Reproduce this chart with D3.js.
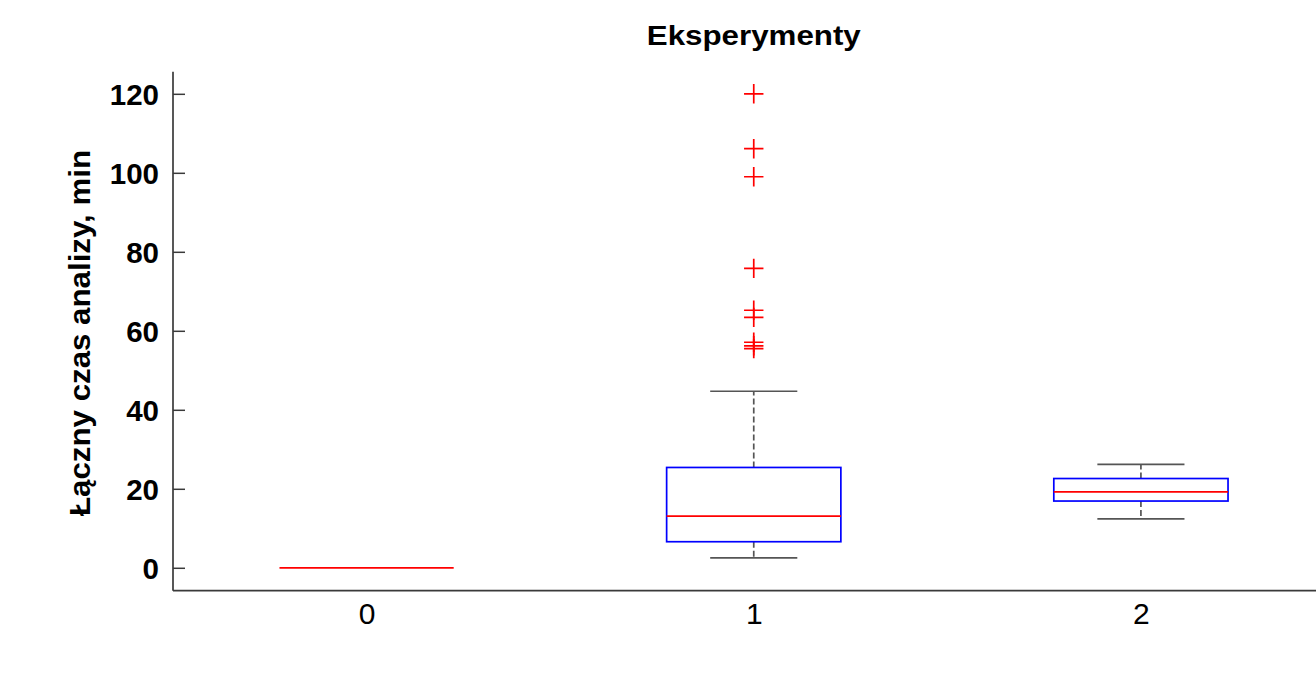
<!DOCTYPE html>
<html>
<head>
<meta charset="utf-8">
<script src="https://cdn.jsdelivr.net/npm/d3@7"></script>
<style>
  html, body { margin: 0; padding: 0; background: #fff; }
  svg { display: block; }
  text { font-family: "Liberation Sans", Arial, Helvetica, sans-serif; }
</style>
</head>
<body>
<svg id="chart" width="1316" height="683"></svg>
<script>
// ---- data ----
const categories   = [0, 1, 2];
const whiskerLow   = [0, 2.5, 12.4];
const q1           = [0, 6.6, 16.9];
const median       = [0, 13.1, 19.2];
const q3           = [0, 25.4, 22.6];
const whiskerHigh  = [0, 44.7, 26.2];
const outliers     = [[], [120, 106.1, 99.0, 75.8, 65.2, 63.4, 57.1, 56.2, 55.5], []];
const yTicks       = [0, 20, 40, 60, 80, 100, 120];
const titleText    = "Eksperymenty";
const yLabelText   = "Łączny czas analizy, min";

const boxes = categories.map((c, i) => ({
  c, lo: whiskerLow[i], q1: q1[i], med: median[i], q3: q3[i], hi: whiskerHigh[i], out: outliers[i]
}));

const svg = d3.select("#chart");

const x = d3.scaleLinear().domain([-0.5, 2.5]).range([173, 1334.5]);
const y = d3.scaleLinear().domain([-5.8, 125.6]).range([590.7, 71.7]);

const boxHalf = x(0.225) - x(0);
const capHalf = boxHalf / 2;
const axisColor = "#3a3a3a";
const whiskColor = "#555";
const lw = 1.7;

// axes
const yAxis = d3.axisLeft(y).tickValues(yTicks).tickSizeInner(-12).tickSizeOuter(0).tickPadding(14);
const gy = svg.append("g").attr("transform", `translate(${x(-0.5)},0)`).call(yAxis);
gy.select(".domain").remove();
gy.selectAll(".tick line").attr("stroke", axisColor).attr("stroke-width", 1.5);
gy.selectAll(".tick text").attr("fill", "#000").attr("font-size", 29.5).attr("font-weight", "bold")
  .attr("font-family", "'Liberation Sans', Arial, sans-serif").attr("dy", "0.36em");

const xAxis = d3.axisBottom(x).tickValues(categories).tickSize(0).tickPadding(12).tickFormat(d3.format("d"));
const gx = svg.append("g").attr("transform", `translate(0,${y(-5.8)})`).call(xAxis);
gx.select(".domain").remove();
gx.selectAll(".tick text").attr("fill", "#000").attr("font-size", 30)
  .attr("font-family", "'Liberation Sans', Arial, sans-serif").attr("dy", "0.71em");

// axis lines
svg.append("line").attr("x1", x(-0.5)).attr("x2", x(-0.5)).attr("y1", y(125.6)).attr("y2", y(-5.8))
  .attr("stroke", axisColor).attr("stroke-width", 1.7);
svg.append("line").attr("x1", x(-0.5)).attr("x2", x(2.5)).attr("y1", y(-5.8)).attr("y2", y(-5.8))
  .attr("stroke", axisColor).attr("stroke-width", 1.7);

// boxes
const g = svg.append("g");
const b = g.selectAll("g.box").data(boxes).join("g").attr("class", "box");

b.each(function(d) {
  const s = d3.select(this);
  const cx = x(d.c);
  if (d.hi > d.q3 || d.lo < d.q1) {
    // whiskers (dashed)
    s.append("line").attr("x1", cx).attr("x2", cx).attr("y1", y(d.q3)).attr("y2", y(d.hi))
      .attr("stroke", whiskColor).attr("stroke-width", lw).attr("stroke-dasharray", "6,3");
    s.append("line").attr("x1", cx).attr("x2", cx).attr("y1", y(d.q1)).attr("y2", y(d.lo))
      .attr("stroke", whiskColor).attr("stroke-width", lw).attr("stroke-dasharray", "6,3");
    // caps
    s.append("line").attr("x1", cx - capHalf).attr("x2", cx + capHalf)
      .attr("y1", y(d.hi)).attr("y2", y(d.hi)).attr("stroke", whiskColor).attr("stroke-width", lw);
    s.append("line").attr("x1", cx - capHalf).attr("x2", cx + capHalf)
      .attr("y1", y(d.lo)).attr("y2", y(d.lo)).attr("stroke", whiskColor).attr("stroke-width", lw);
  }
  if (d.q3 > d.q1) {
    s.append("rect").attr("x", cx - boxHalf).attr("width", 2 * boxHalf)
      .attr("y", y(d.q3)).attr("height", y(d.q1) - y(d.q3))
      .attr("fill", "none").attr("stroke", "#0000ff").attr("stroke-width", lw);
  }
  // median
  s.append("line").attr("x1", cx - boxHalf).attr("x2", cx + boxHalf)
    .attr("y1", y(d.med)).attr("y2", y(d.med)).attr("stroke", "#ff0000").attr("stroke-width", lw);
  // outliers (+)
  s.selectAll("path.out").data(d.out).join("path").attr("class", "out")
    .attr("d", v => {
      const cy = y(v), r = 9.7;
      return `M${cx - r},${cy}H${cx + r}M${cx},${cy - r}V${cy + r}`;
    })
    .attr("stroke", "#ff0000").attr("stroke-width", lw).attr("fill", "none");
});

// title
svg.append("text").attr("x", (x(-0.5) + x(2.5)) / 2).attr("y", 45).attr("text-anchor", "middle")
  .attr("font-size", 27).attr("font-weight", "bold").attr("textLength", 214).attr("lengthAdjust", "spacingAndGlyphs")
  .text(titleText);

// y label
svg.append("text").attr("transform", `translate(90,333) rotate(-90)`).attr("text-anchor", "middle")
  .attr("font-size", 30).attr("font-weight", "bold").attr("textLength", 366).attr("lengthAdjust", "spacingAndGlyphs")
  .text(yLabelText);
</script>
</body>
</html>
